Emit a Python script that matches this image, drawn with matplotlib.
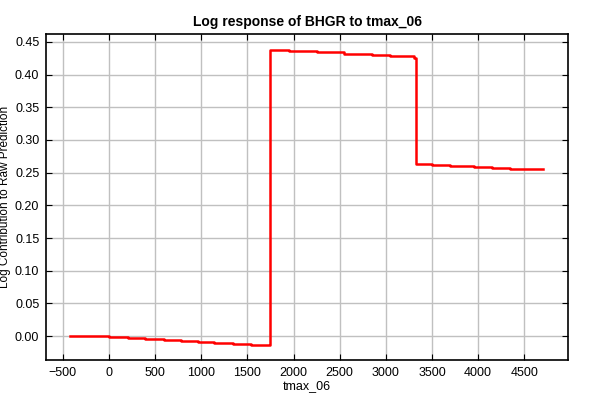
import numpy as np
import matplotlib.pyplot as plt

plt.rcParams['font.family'] = ['Liberation Sans', 'DejaVu Sans']

# step response
tmax = [-425, 0, 205, 390, 595, 780, 960, 1140, 1340, 1535, 1700, 1735,
        1745, 1950, 2250, 2550, 2850, 3050, 3300, 3320,
        3330, 3500, 3700, 3950, 4150, 4350, 4700]
resp = [0.0, -0.0015, -0.003, -0.0045, -0.006, -0.0075, -0.009, -0.0105, -0.012, -0.013, -0.0145, -0.0145,
        0.438, 0.436, 0.434, 0.432, 0.430, 0.428, 0.4255, 0.4255,
        0.263, 0.262, 0.260, 0.258, 0.257, 0.2555, 0.2555]

fig = plt.figure(figsize=(6, 4), dpi=100)
ax = fig.add_axes([0.077, 0.1, 0.87, 0.815])

ax.plot(tmax, resp, drawstyle='steps-post', color='red', lw=1.8)

ax.set_xlim(-681, 4976)
ax.set_ylim(-0.0367, 0.4622)
ax.set_xticks(np.arange(-500, 4501, 500))
ax.set_yticks(np.arange(0, 0.451, 0.05))
ax.yaxis.set_major_formatter(plt.FormatStrFormatter('%.2f'))
ax.grid(True, color='#c0c0c0', lw=1)
ax.set_axisbelow(True)
ax.tick_params(direction='in', top=True, right=True, labelsize=9, length=4, color='black')
ax.tick_params(axis='both', pad=5)
for s in ax.spines.values():
    s.set_linewidth(1.2)

ax.set_title('Log response of BHGR to tmax_06', fontsize=10, fontweight='bold', pad=6)
ax.set_xlabel('tmax_06', fontsize=9, labelpad=1)
ax.set_ylabel('Log Contribution to Raw Prediction', fontsize=8.5, labelpad=3)

fig.savefig('out.png', dpi=100)
